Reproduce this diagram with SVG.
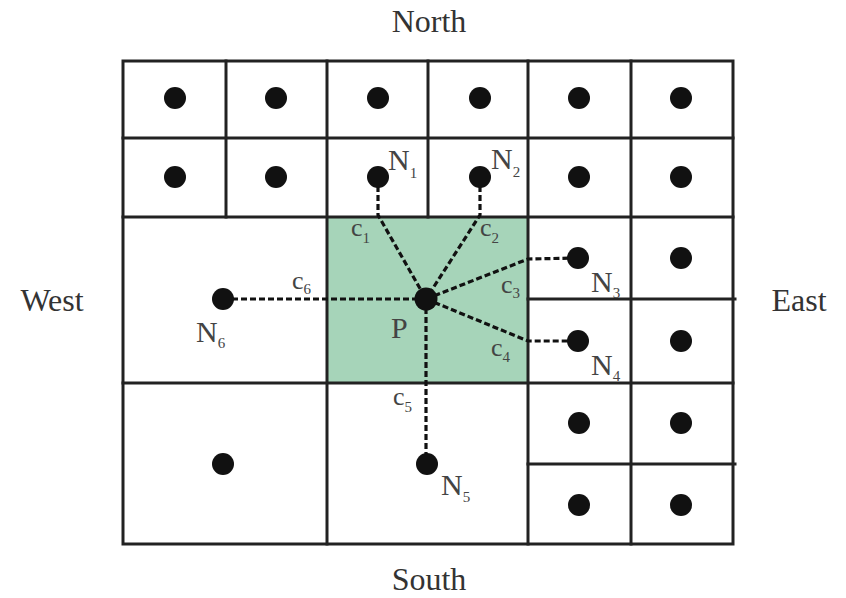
<svg xmlns="http://www.w3.org/2000/svg" width="846" height="598" viewBox="0 0 846 598">
  <style>
    .grid { stroke: #222; stroke-width: 3; fill: none; stroke-linecap: square; }
    .dot { fill: #111; }
    .conn { stroke: #111; stroke-width: 3.2; fill: none; stroke-dasharray: 6 3; }
    .dir { font-family: "Liberation Serif", "Times New Roman", serif; font-size: 32px; fill: #333; }
    .lbl { font-family: "Liberation Serif", "Times New Roman", serif; font-size: 30px; fill: #444; }
    .clbl { font-family: "Liberation Serif", "Times New Roman", serif; font-size: 26px; fill: #444; }
    .sub { font-size: 15px; }
  </style>

  <!-- control volume P -->
  <rect id="cell-P" x="327" y="217" width="201" height="166" fill="#a6d4b9"/>

  <!-- mesh lines -->
  <g id="mesh" class="grid">
    <rect x="123" y="61" width="610" height="483"/>
    <line x1="123" y1="138" x2="733" y2="138"/>
    <line x1="123" y1="217" x2="733" y2="217"/>
    <line x1="123" y1="383" x2="733" y2="383"/>
    <line x1="528" y1="299" x2="735" y2="299"/>
    <line x1="528" y1="464" x2="735" y2="464"/>
    <line x1="226" y1="61" x2="226" y2="217"/>
    <line x1="428" y1="61" x2="428" y2="217"/>
    <line x1="327" y1="61" x2="327" y2="544"/>
    <line x1="528" y1="61" x2="528" y2="544"/>
    <line x1="631" y1="61" x2="631" y2="544"/>
  </g>

  <!-- connectors from P to neighbours -->
  <g id="connectors" class="conn">
    <path d="M378,177 L378,215 L426,299"/>
    <path d="M480,177 L480,215 L426,299"/>
    <path d="M426,299 L528,259 L578,258"/>
    <path d="M426,299 L528,341 L578,341"/>
    <path d="M426,299 L426,464"/>
    <path d="M223,299 L426,299"/>
  </g>

  <!-- cell centres -->
  <g id="nodes">
    <g id="row1">
      <circle class="dot" cx="175" cy="98" r="11"/>
      <circle class="dot" cx="276" cy="98" r="11"/>
      <circle class="dot" cx="378" cy="98" r="11"/>
      <circle class="dot" cx="480" cy="98" r="11"/>
      <circle class="dot" cx="579" cy="98" r="11"/>
      <circle class="dot" cx="681" cy="98" r="11"/>
    </g>
    <g id="row2">
      <circle class="dot" cx="175" cy="177" r="11"/>
      <circle class="dot" cx="276" cy="177" r="11"/>
      <circle class="dot" cx="579" cy="177" r="11"/>
      <circle class="dot" cx="681" cy="177" r="11"/>
    </g>
    <g id="N1"><circle class="dot" cx="378" cy="177" r="11"/>
      <text class="lbl" x="388" y="170">N<tspan class="sub" dy="8">1</tspan></text></g>
    <g id="N2"><circle class="dot" cx="480" cy="177" r="11"/>
      <text class="lbl" x="491" y="169">N<tspan class="sub" dy="8">2</tspan></text></g>
    <g id="N3"><circle class="dot" cx="578" cy="258" r="11"/>
      <text class="lbl" x="591" y="292">N<tspan class="sub" dy="6">3</tspan></text></g>
    <g id="N4"><circle class="dot" cx="578" cy="341" r="11"/>
      <text class="lbl" x="591" y="375">N<tspan class="sub" dy="6">4</tspan></text></g>
    <g id="N5"><circle class="dot" cx="427" cy="464" r="11"/>
      <text class="lbl" x="441" y="495">N<tspan class="sub" dy="7">5</tspan></text></g>
    <g id="N6"><circle class="dot" cx="223" cy="299" r="11"/>
      <text class="lbl" x="196" y="342">N<tspan class="sub" dy="6">6</tspan></text></g>
    <g id="P"><circle class="dot" cx="426" cy="299" r="11.5"/>
      <text class="lbl" x="391" y="338" fill="#2f4a3c">P</text></g>
    <g id="east-cells">
      <circle class="dot" cx="681" cy="258" r="11"/>
      <circle class="dot" cx="681" cy="341" r="11"/>
      <circle class="dot" cx="579" cy="423" r="11"/>
      <circle class="dot" cx="681" cy="423" r="11"/>
      <circle class="dot" cx="579" cy="505" r="11"/>
      <circle class="dot" cx="681" cy="505" r="11"/>
    </g>
    <g id="sw-cell"><circle class="dot" cx="223" cy="464" r="11"/></g>
  </g>

  <!-- connector labels -->
  <g id="conn-labels">
    <text class="clbl" x="351" y="236">c<tspan class="sub" dy="7">1</tspan></text>
    <text class="clbl" x="480" y="236">c<tspan class="sub" dy="7">2</tspan></text>
    <text class="clbl" x="501" y="293">c<tspan class="sub" dy="5">3</tspan></text>
    <text class="clbl" x="491" y="356">c<tspan class="sub" dy="6">4</tspan></text>
    <text class="clbl" x="393" y="405">c<tspan class="sub" dy="7">5</tspan></text>
    <text class="clbl" x="292" y="289">c<tspan class="sub" dy="5">6</tspan></text>
  </g>

  <!-- compass labels -->
  <g id="directions">
    <text class="dir" x="429" y="32" text-anchor="middle">North</text>
    <text class="dir" x="429" y="590" text-anchor="middle">South</text>
    <text class="dir" x="52" y="311" text-anchor="middle">West</text>
    <text class="dir" x="799" y="311" text-anchor="middle">East</text>
  </g>
</svg>
